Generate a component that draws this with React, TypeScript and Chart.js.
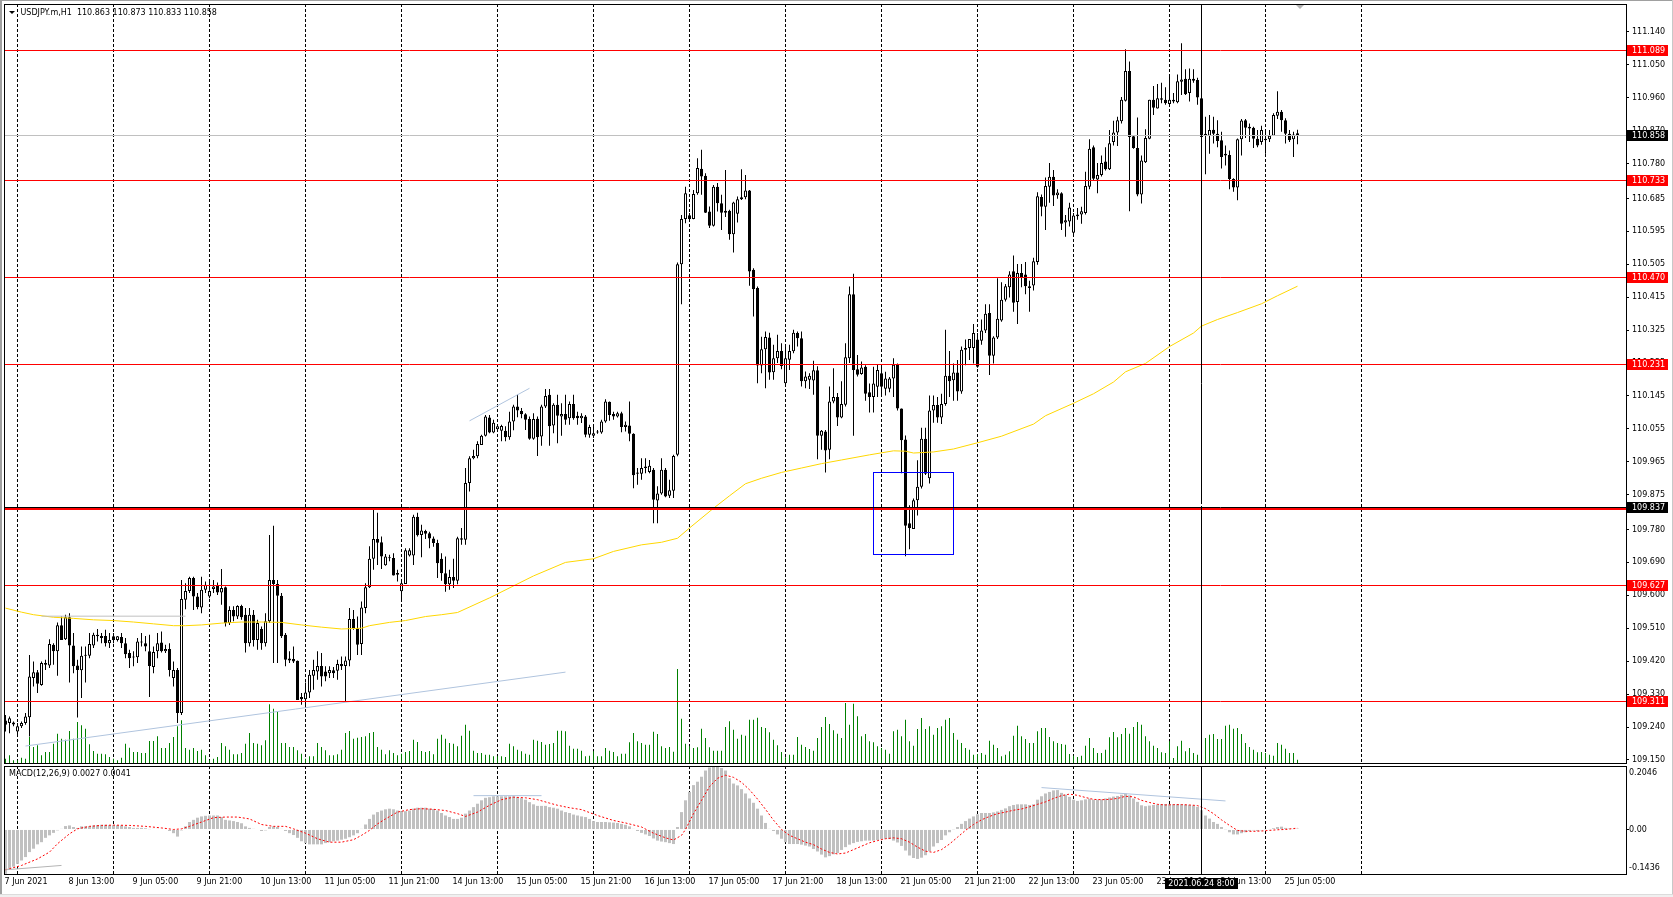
import { useEffect, useRef } from "react";
import { Chart, registerables } from "chart.js";

Chart.register(...registerables);

// ---------------- data ----------------
const SYMBOL_TITLE = "USDJPY.m,H1  110.863 110.873 110.833 110.858";
const MACD_TITLE = "MACD(12,26,9) 0.0027 0.0041";

// [open, high, low, close] per H1 bar, bar 0 = 7 Jun 21:00
const OHLC: number[][] = [
  [109.258,109.273,109.228,109.246],[109.251,109.269,109.223,109.264],[109.252,109.255,109.242,109.247],[109.228,109.251,109.219,109.242],
  [109.242,109.255,109.237,109.251],[109.251,109.278,109.246,109.269],[109.267,109.437,109.214,109.378],[109.374,109.419,109.351,109.390],
  [109.390,109.396,109.333,109.358],[109.355,109.419,109.353,109.415],[109.415,109.424,109.396,109.410],[109.408,109.480,109.401,109.467],
  [109.465,109.469,109.410,109.447],[109.447,109.526,109.380,109.518],[109.518,109.542,109.478,109.478],[109.480,109.547,109.478,109.540],
  [109.540,109.551,109.362,109.463],[109.463,109.497,109.387,109.406],[109.408,109.424,109.266,109.396],[109.395,109.460,109.319,109.435],
  [109.435,109.460,109.362,109.437],[109.435,109.497,109.428,109.467],[109.463,109.498,109.456,109.492],[109.488,109.508,109.474,109.492],
  [109.483,109.497,109.469,109.489],[109.489,109.506,109.460,109.469],[109.469,109.497,109.456,109.478],[109.488,109.497,109.469,109.478],
  [109.478,109.489,109.474,109.488],[109.486,109.497,109.456,109.469],[109.469,109.483,109.428,109.439],[109.442,109.451,109.401,109.428],
  [109.433,109.447,109.406,109.430],[109.431,109.483,109.415,109.474],[109.471,109.497,109.460,109.474],[109.469,109.489,109.447,109.460],
  [109.447,109.492,109.322,109.407],[109.404,109.460,109.387,109.445],[109.447,109.497,109.428,109.469],[109.471,109.501,109.444,109.447],
  [109.447,109.465,109.442,109.453],[109.453,109.469,109.378,109.396],[109.374,109.419,109.351,109.396],[109.396,109.401,109.251,109.278],
  [109.278,109.642,109.273,109.590],[109.588,109.633,109.562,109.612],[109.612,109.651,109.606,109.647],[109.647,109.651,109.560,109.597],
  [109.597,109.606,109.562,109.568],[109.567,109.651,109.551,109.615],[109.615,109.638,109.606,109.629],[109.597,109.642,109.592,109.612],
  [109.617,109.642,109.606,109.624],[109.626,109.635,109.601,109.608],[109.608,109.672,109.574,109.620],[109.622,109.624,109.515,109.524],
  [109.524,109.570,109.519,109.560],[109.560,109.570,109.529,109.542],[109.542,109.573,109.535,109.571],[109.571,109.574,109.533,109.540],
  [109.547,109.565,109.444,109.469],[109.469,109.565,109.460,109.547],[109.547,109.560,109.460,109.478],[109.478,109.533,109.451,109.524],
  [109.508,109.515,109.451,109.469],[109.469,109.551,109.460,109.529],[109.529,109.765,109.524,109.642],[109.642,109.790,109.415,109.631],
  [109.631,109.642,109.415,109.599],[109.599,109.606,109.483,109.488],[109.492,109.497,109.406,109.424],[109.427,109.447,109.415,109.422],
  [109.426,109.460,109.415,109.419],[109.421,109.422,109.314,109.314],[109.322,109.333,109.301,109.316],[109.316,109.362,109.292,109.334],
  [109.334,109.396,109.319,109.383],[109.380,109.424,109.342,109.396],[109.392,109.447,109.369,109.407],[109.407,109.442,109.351,109.378],
  [109.392,109.406,109.365,109.378],[109.387,109.406,109.374,109.396],[109.395,109.404,109.374,109.387],[109.394,109.424,109.369,109.412],
  [109.412,109.433,109.396,109.406],[109.407,109.433,109.310,109.422],[109.422,109.565,109.406,109.535],[109.535,109.560,109.506,109.510],
  [109.510,109.542,109.437,109.465],[109.467,109.583,109.437,109.567],[109.565,109.633,109.551,109.622],[109.622,109.734,109.620,109.700],
  [109.700,109.834,109.670,109.754],[109.754,109.826,109.683,109.744],[109.745,109.761,109.672,109.706],[109.682,109.713,109.681,109.706],
  [109.701,109.711,109.693,109.704],[109.702,109.715,109.654,109.654],[109.656,109.670,109.638,109.661],[109.611,109.638,109.588,109.633],
  [109.631,109.729,109.631,109.723],[109.709,109.729,109.706,109.723],[109.709,109.820,109.683,109.815],[109.815,109.826,109.761,109.764],
  [109.765,109.793,109.704,109.777],[109.776,109.779,109.754,109.768],[109.770,109.774,109.729,109.755],[109.755,109.761,109.733,109.743],
  [109.743,109.752,109.647,109.688],[109.700,109.715,109.640,109.660],[109.660,109.706,109.610,109.630],[109.630,109.670,109.615,109.650],
  [109.650,109.700,109.620,109.640],[109.640,109.760,109.630,109.756],[109.756,109.784,109.738,109.752],[109.752,109.948,109.738,109.907],
  [109.907,109.980,109.884,109.975],[109.975,109.998,109.972,109.981],[109.980,110.021,109.975,110.014],[110.011,110.039,110.011,110.036],
  [110.036,110.093,110.034,110.089],[110.086,110.093,110.043,110.045],[110.045,110.080,110.043,110.072],[110.054,110.066,110.048,110.062],
  [110.050,110.066,110.021,110.063],[110.050,110.062,110.021,110.032],[110.032,110.102,110.025,110.075],[110.075,110.121,110.051,110.116],
  [110.116,110.148,110.087,110.105],[110.104,110.112,110.084,110.095],[110.095,110.098,110.052,110.080],[110.082,110.089,110.025,110.028],
  [110.028,110.098,110.025,110.082],[110.083,110.089,109.981,110.032],[110.034,110.121,110.009,110.116],[110.116,110.164,110.112,110.145],
  [110.148,110.164,110.009,110.062],[110.064,110.125,110.043,110.121],[110.121,110.148,110.016,110.091],[110.089,110.125,110.036,110.096],
  [110.096,110.148,110.066,110.080],[110.084,110.130,110.066,110.123],[110.123,110.148,110.080,110.084],[110.091,110.102,110.066,110.084],
  [110.084,110.098,110.071,110.091],[110.089,110.093,110.032,110.039],[110.039,110.066,110.031,110.060],[110.036,110.062,110.030,110.043],
  [110.045,110.052,110.042,110.048],[110.045,110.080,110.042,110.075],[110.075,110.136,110.072,110.130],[110.129,110.130,110.077,110.093],
  [110.096,110.102,110.080,110.089],[110.089,110.102,110.086,110.098],[110.098,110.102,110.046,110.060],[110.060,110.075,110.048,110.066],
  [110.064,110.130,110.021,110.042],[110.042,110.043,109.893,109.928],[109.936,109.948,109.902,109.932],[109.932,109.975,109.916,109.948],
  [109.952,109.975,109.934,109.948],[109.937,109.970,109.934,109.954],[109.943,109.948,109.797,109.861],[109.859,109.898,109.797,109.878],
  [109.878,109.975,109.875,109.943],[109.943,109.948,109.868,109.870],[109.872,109.916,109.866,109.887],[109.886,109.984,109.866,109.981],
  [109.984,110.510,109.980,110.505],[110.505,110.640,110.396,110.629],[110.629,110.717,110.617,110.699],[110.639,110.645,110.622,110.629],
  [110.629,110.708,110.628,110.697],[110.699,110.795,110.695,110.768],[110.766,110.818,110.695,110.745],[110.747,110.754,110.645,110.646],
  [110.649,110.663,110.604,110.610],[110.610,110.722,110.608,110.717],[110.717,110.727,110.649,110.672],[110.672,110.695,110.599,110.646],
  [110.646,110.763,110.634,110.651],[110.651,110.654,110.572,110.587],[110.587,110.676,110.537,110.674],[110.643,110.690,110.619,110.683],
  [110.683,110.765,110.681,110.688],[110.688,110.749,110.683,110.707],[110.707,110.708,110.446,110.485],[110.490,110.494,110.362,110.437],
  [110.440,110.444,110.180,110.228],[110.228,110.307,110.207,110.273],[110.273,110.321,110.166,110.306],[110.305,110.318,110.189,110.209],
  [110.210,110.285,110.189,110.248],[110.248,110.312,110.235,110.268],[110.268,110.289,110.218,110.227],[110.180,110.285,110.175,110.248],
  [110.244,110.285,110.216,110.268],[110.267,110.326,110.262,110.318],[110.317,110.321,110.280,110.303],[110.303,110.321,110.171,110.185],
  [110.185,110.212,110.166,110.198],[110.189,110.207,110.164,110.200],[110.187,110.241,110.148,110.215],[110.215,110.226,109.972,110.036],
  [110.036,110.052,109.998,110.050],[110.048,110.052,109.936,109.996],[109.998,110.171,109.972,110.130],[110.130,110.221,110.125,110.142],
  [110.142,110.153,110.063,110.086],[110.086,110.185,110.084,110.123],[110.121,110.289,110.116,110.251],[110.248,110.444,110.235,110.423],
  [110.423,110.479,110.036,110.216],[110.218,110.257,110.198,110.203],[110.205,110.239,110.203,110.223],[110.225,110.229,110.132,110.151],
  [110.155,110.179,110.100,110.142],[110.142,110.225,110.100,110.179],[110.170,110.230,110.142,110.216],[110.207,110.230,110.142,110.170],
  [110.165,110.211,110.146,110.193],[110.165,110.197,110.155,110.193],[110.193,110.248,110.142,110.230],[110.230,110.234,110.105,110.111],
  [110.111,110.111,109.934,110.024],[110.026,110.037,109.707,109.790],[109.797,109.846,109.726,109.784],[109.781,109.865,109.781,109.860],
  [109.860,109.969,109.818,109.897],[109.897,110.058,109.892,110.028],[110.028,110.058,109.929,109.932],[109.920,110.146,109.906,110.105],
  [110.105,110.146,110.072,110.120],[110.120,110.142,110.072,110.086],[110.086,110.151,110.068,110.123],[110.123,110.326,110.118,110.200],
  [110.200,110.268,110.142,110.185],[110.188,110.234,110.132,110.209],[110.209,110.243,110.132,110.157],[110.157,110.280,110.151,110.271],
  [110.271,110.299,110.229,110.276],[110.276,110.301,110.243,110.301],[110.276,110.342,110.234,110.317],[110.299,110.317,110.222,110.225],
  [110.296,110.354,110.285,110.324],[110.324,110.396,110.317,110.370],[110.372,110.396,110.202,110.255],[110.255,110.308,110.234,110.305],
  [110.305,110.467,110.301,110.356],[110.351,110.456,110.348,110.408],[110.408,110.451,110.403,110.445],[110.442,110.486,110.414,110.477],
  [110.486,110.529,110.375,110.400],[110.402,110.506,110.342,110.481],[110.481,110.506,110.442,110.470],[110.477,110.511,110.423,110.445],
  [110.440,110.460,110.375,110.445],[110.447,110.523,110.433,110.513],[110.511,110.702,110.504,110.691],[110.689,110.696,110.636,110.662],
  [110.662,110.742,110.599,110.719],[110.717,110.782,110.673,110.744],[110.744,110.763,110.664,110.693],[110.694,110.710,110.684,110.701],
  [110.699,110.702,110.599,110.616],[110.619,110.640,110.580,110.625],[110.622,110.673,110.608,110.660],[110.591,110.645,110.585,110.638],
  [110.636,110.659,110.627,110.641],[110.641,110.662,110.616,110.650],[110.645,110.758,110.641,110.719],[110.717,110.847,110.710,110.821],
  [110.825,110.830,110.733,110.739],[110.737,110.782,110.699,110.749],[110.749,110.802,110.745,110.782],[110.786,110.825,110.761,110.765],
  [110.765,110.872,110.763,110.836],[110.839,110.897,110.830,110.865],[110.865,110.908,110.828,110.899],[110.896,110.962,110.890,110.955],
  [110.952,111.093,110.950,111.033],[111.033,111.059,110.650,110.853],[110.855,110.858,110.821,110.823],[110.823,110.906,110.691,110.696],
  [110.696,110.802,110.671,110.789],[110.784,110.874,110.782,110.850],[110.848,110.955,110.847,110.955],[110.955,110.992,110.913,110.933],
  [110.931,110.998,110.931,110.959],[110.959,111.001,110.945,110.955],[110.955,110.989,110.941,110.945],[110.943,111.019,110.939,110.955],
  [110.950,110.973,110.945,110.955],[110.948,111.024,110.945,111.005],[111.004,111.109,110.968,111.010],[111.012,111.038,110.968,110.970],
  [110.973,111.040,110.950,111.012],[111.007,111.038,111.001,111.012],[111.009,111.015,110.941,110.961],[110.959,110.964,110.798,110.853],
  [110.856,110.908,110.751,110.862],[110.856,110.913,110.807,110.872],[110.873,110.908,110.835,110.862],[110.862,110.899,110.825,110.842],
  [110.844,110.867,110.767,110.798],[110.802,110.830,110.775,110.807],[110.804,110.816,110.710,110.738],[110.738,110.740,110.703,110.715],
  [110.715,110.849,110.680,110.847],[110.847,110.902,110.802,110.898],[110.899,110.902,110.850,110.878],[110.876,110.890,110.839,110.881],
  [110.878,110.881,110.823,110.848],[110.848,110.872,110.825,110.830],[110.839,110.884,110.832,110.872],[110.848,110.867,110.807,110.844],
  [110.847,110.872,110.839,110.856],[110.856,110.918,110.856,110.913],[110.911,110.978,110.902,110.922],[110.922,110.927,110.867,110.899],
  [110.899,110.904,110.835,110.862],[110.862,110.872,110.839,110.844],[110.847,110.867,110.798,110.860],[110.863,110.873,110.833,110.858],
];

// tick volume per bar
const VOLUME: number[] = [
  87,153,53,53,107,87,520,320,353,153,
  220,220,387,587,487,467,640,487,820,753,
  687,373,240,187,187,173,120,87,53,107,
  387,307,220,220,200,200,440,440,533,300,
  300,400,520,733,853,300,267,300,240,267,
  153,53,87,120,400,333,267,173,173,200,
  387,600,400,387,353,453,1173,1087,1020,400,
  400,320,320,253,187,87,133,133,400,320,
  253,153,153,173,267,600,640,487,507,520,
  533,600,620,320,267,173,253,200,153,187,
  220,240,467,420,240,220,240,173,487,
  567,487,400,387,333,547,767,647,247,200,
  200,167,167,133,133,133,120,387,333,267,
  233,187,167,467,447,420,367,380,400,647,
  647,633,347,287,287,247,133,147,233,133,
  133,300,247,220,133,187,187,413,600,433,
  400,367,367,627,580,333,300,320,227,1881,
  887,387,333,300,313,687,500,313,247,247,
  247,720,834,667,487,567,547,867,867,907,
  720,700,614,467,353,220,113,167,167,520,
  367,320,280,247,500,720,920,780,654,587,
  500,1201,767,1187,934,534,580,434,413,333,
  300,267,187,633,667,534,867,434,347,680,
  900,680,734,567,700,734,867,900,600,467,
  400,300,267,167,180,200,167,447,367,300,
  133,167,233,547,747,534,480,400,400,633,
  700,700,520,434,400,380,367,180,147,120,
  147,347,500,300,200,200,267,514,620,514,
  580,700,587,720,820,767,534,434,347,300,
  213,200,434,100,333,447,233,300,200,167,
  333,500,567,580,480,480,747,767,687,700,
  580,400,320,267,213,220,200,167,147,400,
  367,287,200,200,67,
];

// MACD(12,26,9) main histogram per bar
const MACD_HIST: number[] = [
  -0.143,-0.127,-0.120,-0.111,-0.100,-0.089,-0.073,-0.062,-0.048,-0.041,
  -0.027,-0.019,-0.011,-0.003,0.002,0.011,0.013,0.008,0.005,0.010,
  0.010,0.011,0.013,0.014,0.015,0.015,0.014,0.014,0.014,0.013,
  0.010,0.008,0.005,0.005,0.005,0.004,0.001,0.002,0.002,0.002,
  0.000,-0.005,-0.012,-0.023,-0.003,0.010,0.024,0.031,0.038,0.042,
  0.044,0.045,0.045,0.045,0.040,0.031,0.029,0.027,0.024,0.020,
  0.010,0.005,0.002,0.000,-0.005,-0.003,0.008,0.010,0.008,0.002,
  -0.005,-0.012,-0.018,-0.027,-0.038,-0.044,-0.048,-0.048,-0.048,-0.048,
  -0.044,-0.041,-0.038,-0.036,-0.033,-0.030,-0.025,-0.019,-0.012,0.002,
  0.016,0.034,0.048,0.056,0.061,0.065,0.067,0.065,0.061,0.059,
  0.059,0.061,0.067,0.070,0.070,0.070,0.067,0.066,0.061,0.053,
  0.045,0.040,0.034,0.034,0.038,0.051,0.061,0.072,0.083,0.094,
  0.102,0.104,0.107,0.107,0.107,0.107,0.107,0.107,0.104,0.101,
  0.096,0.088,0.081,0.076,0.076,0.076,0.072,0.070,0.067,0.061,
  0.056,0.053,0.048,0.045,0.042,0.040,0.034,0.027,0.024,
  0.024,0.024,0.023,0.022,0.021,0.018,0.015,0.010,0.002,-0.005,
  -0.011,-0.016,-0.021,-0.029,-0.036,-0.039,-0.041,-0.044,-0.047,0.008,
  0.056,0.094,0.121,0.143,0.154,0.170,0.190,0.200,0.2046,0.203,
  0.198,0.190,0.165,0.148,0.142,0.130,0.116,0.100,0.086,0.067,
  0.045,0.021,0.002,-0.005,-0.016,-0.030,-0.041,-0.047,-0.047,-0.047,
  -0.049,-0.052,-0.055,-0.063,-0.071,-0.081,-0.090,-0.086,-0.080,-0.076,
  -0.066,-0.057,-0.049,-0.044,-0.040,-0.038,-0.036,-0.036,-0.036,-0.034,
  -0.031,-0.030,-0.031,-0.036,-0.042,-0.053,-0.068,-0.084,-0.092,-0.095,
  -0.091,-0.083,-0.070,-0.055,-0.044,-0.034,-0.019,-0.009,-0.001,0.008,
  0.018,0.027,0.035,0.042,0.049,0.053,0.053,0.053,0.055,0.058,
  0.063,0.068,0.075,0.079,0.081,0.081,0.081,0.079,0.081,0.096,
  0.107,0.116,0.121,0.126,0.127,0.118,0.112,0.105,0.096,0.092,
  0.094,0.097,0.099,0.096,0.096,0.097,0.100,0.103,0.106,0.108,
  0.112,0.116,0.110,0.100,0.089,0.078,0.075,0.077,0.079,0.080,
  0.081,0.082,0.081,0.081,0.081,0.081,0.080,0.079,0.077,0.073,
  0.062,0.045,0.035,0.024,0.018,0.008,-0.001,-0.009,-0.016,-0.016,
  -0.012,-0.009,-0.005,-0.003,-0.005,-0.003,-0.001,0.001,0.004,0.008,
  0.009,0.005,0.003,0.001,0.0027,
];

// MACD signal line, [bar, value]
const MACD_SIGNAL: number[][] = [
  [0,-0.130],[4,-0.116],[8,-0.095],[11,-0.073],[13,-0.046],[16,-0.014],[18,0.002],[21,0.010],[24,0.013],[27,0.014],
  [31,0.013],[35,0.010],[39,0.005],[42,0.000],[44,0.002],[46,0.010],[49,0.024],[52,0.038],[55,0.040],[58,0.040],
  [61,0.034],[64,0.016],[67,0.010],[70,0.010],[72,0.002],[75,-0.012],[78,-0.030],[81,-0.041],[84,-0.041],[87,-0.033],
  [89,-0.019],[91,-0.003],[93,0.018],[95,0.034],[98,0.056],[101,0.064],[104,0.067],[107,0.065],[110,0.061],[113,0.051],
  [115,0.042],[118,0.056],[121,0.078],[124,0.096],[127,0.104],[130,0.102],[133,0.096],[136,0.085],[138,0.078],[141,0.070],
  [144,0.064],[148,0.045],[152,0.029],[155,0.021],[159,0.008],[162,-0.012],[165,-0.027],[167,-0.034],[169,-0.019],[170,0.000],
  [172,0.051],[174,0.094],[176,0.138],[178,0.165],[180,0.175],[182,0.168],[184,0.152],[186,0.128],[188,0.098],[190,0.065],
  [192,0.030],[194,0.000],[196,-0.019],[198,-0.030],[200,-0.041],[202,-0.049],[204,-0.063],[206,-0.074],[208,-0.079],[210,-0.076],
  [212,-0.065],[214,-0.054],[216,-0.043],[218,-0.036],[220,-0.030],[222,-0.027],[224,-0.030],[226,-0.041],[228,-0.057],[230,-0.070],
  [232,-0.074],[234,-0.065],[236,-0.047],[238,-0.025],[240,-0.003],[242,0.016],[244,0.031],[246,0.042],[248,0.051],[250,0.056],
  [252,0.062],[254,0.066],[256,0.073],[258,0.081],[260,0.089],[262,0.100],[264,0.109],[266,0.114],[268,0.110],[270,0.103],
  [272,0.097],[274,0.096],[276,0.097],[278,0.100],[280,0.107],[282,0.105],[284,0.094],[286,0.087],[288,0.081],[290,0.079],
  [292,0.080],[294,0.080],[296,0.079],[298,0.077],[300,0.067],[302,0.051],[304,0.031],[306,0.013],[308,-0.003],[310,-0.006],
  [312,-0.006],[314,-0.005],[316,-0.003],[318,-0.001],[320,0.000],[322,0.003],[323,0.0041],
];

// moving average (yellow), [bar, price]
const MA_LINE: number[][] = [
  [0,109.565],[4,109.554],[7,109.547],[12,109.540],[17,109.537],[22,109.533],[27,109.531],[32,109.527],[37,109.522],[42,109.517],
  [45,109.517],[49,109.519],[54,109.524],[59,109.527],[64,109.527],[69,109.526],[74,109.519],[79,109.513],[84,109.508],[89,109.510],
  [91,109.517],[96,109.526],[100,109.531],[105,109.542],[109,109.547],[113,109.553],[121,109.593],[132,109.653],[140,109.690],[147,109.700],
  [152,109.720],[159,109.738],[164,109.745],[168,109.756],[171,109.784],[177,109.838],[181,109.872],[185,109.905],[189,109.920],[194,109.936],
  [199,109.948],[204,109.960],[209,109.970],[216,109.984],[222,109.995],[225,109.994],[227,109.989],[232,109.992],[237,110.000],[243,110.017],
  [249,110.035],[257,110.068],[260,110.091],[267,110.125],[272,110.151],[277,110.183],[280,110.211],[285,110.234],[291,110.280],[297,110.317],
  [299,110.336],[303,110.354],[308,110.373],[314,110.397],[318,110.419],[323,110.445],
];

// drawn objects ([bar, value] end points)
const TREND_LONG: number[][] = [[5,109.188],[140,109.390]];
const TREND_SHORT: number[][] = [[116,110.077],[131,110.166]];
const GRAY_SEGMENT: number[][] = [[9,109.543],[45,109.543]];
const MACD_TREND_A: number[][] = [[0,-0.130],[14,-0.116]];
const MACD_TREND_B: number[][] = [[117,0.109],[134,0.109]];
const MACD_TREND_C: number[][] = [[259,0.135],[305,0.092]];
const BOX_BARS = [217, 237];
const BOX_PRICES = [109.935, 109.712];

const RED_LEVELS = [111.089, 110.733, 110.47, 110.231, 109.627, 109.311];
const MAJOR_LEVEL = 109.837;
const BID_PRICE = 110.858;
const CROSS_BAR = 299;
const CROSS_PRICE = 109.84;
const CROSS_PRICE_LABEL = "109.837";
const CROSS_TIME_LABEL = "2021.06.24 8:00";

const PRICE_TICKS = [111.14,111.05,110.96,110.87,110.78,110.685,110.595,110.505,110.415,110.325,110.235,110.145,110.055,109.965,109.875,109.78,109.69,109.6,109.51,109.42,109.33,109.24,109.15];
const TIME_TICKS = [0,16,32,48,64,80,96,112,128,144,160,176,192,208,224,240,256,272,288,304,320];
const TIME_LABELS = ["7 Jun 2021","8 Jun 13:00","9 Jun 05:00","9 Jun 21:00","10 Jun 13:00","11 Jun 05:00","11 Jun 21:00","14 Jun 13:00","15 Jun 05:00","15 Jun 21:00","16 Jun 13:00","17 Jun 05:00","17 Jun 21:00","18 Jun 13:00","21 Jun 05:00","21 Jun 21:00","22 Jun 13:00","23 Jun 05:00","23 Jun 21:00","24 Jun 13:00","25 Jun 05:00"];
const GRID_BARS = [3,27,51,75,99,123,147,171,195,219,243,267,291,315,339];

// ---------------- layout ----------------
const W = 1673;
const MAIN_H = 765;
const MACD_H = 132;
const AXIS_W = 47;
const X_MIN = -0.375;
const X_MAX = 405.125;
const PRICE_MIN = 109.1416;
const PRICE_MAX = 111.2165;
const VOL_MAX = 15180;
const MACD_MIN = -0.1436;
const MACD_MAX = 0.2046;
const FONT_FAMILY = "DejaVu Sans";
const CANVAS_FONT = "8px 'DejaVu Sans'";

const pts = (arr: number[][]) => arr.map(([x, y]) => ({ x, y }));

function drawVGrid(chart: any) {
  const { ctx, chartArea: ca, scales } = chart;
  const x = scales.x;
  ctx.save();
  ctx.strokeStyle = "#000";
  ctx.lineWidth = 1;
  ctx.setLineDash([3, 2]);
  for (const b of GRID_BARS) {
    const px = Math.floor(x.getPixelForValue(b)) + 0.5;
    if (px < ca.left || px > ca.right) continue;
    ctx.beginPath();
    ctx.moveTo(px, ca.top);
    ctx.lineTo(px, ca.bottom);
    ctx.stroke();
  }
  ctx.restore();
}

function hline(ctx: any, ca: any, py: number, color: string) {
  const yy = Math.floor(py) + 0.5;
  ctx.strokeStyle = color;
  ctx.lineWidth = 1;
  ctx.beginPath();
  ctx.moveTo(ca.left, yy);
  ctx.lineTo(ca.right, yy);
  ctx.stroke();
}

function axisBox(ctx: any, x0: number, py: number, text: string, bg: string) {
  const yy = Math.floor(py);
  ctx.fillStyle = bg;
  ctx.fillRect(x0, yy - 5, 41, 11);
  ctx.fillStyle = "#fff";
  ctx.font = CANVAS_FONT;
  ctx.textAlign = "left";
  ctx.textBaseline = "middle";
  ctx.fillText(text, x0 + 5, yy + 0.5);
}

const mainOverlay = {
  id: "mainOverlay",
  beforeDatasetsDraw(chart: any) {
    drawVGrid(chart);
  },
  afterDatasetsDraw(chart: any) {
    const { ctx, chartArea: ca, scales } = chart;
    const y = scales.y;
    const x = scales.x;
    ctx.save();
    ctx.setLineDash([]);
    hline(ctx, ca, y.getPixelForValue(BID_PRICE), "#c0c0c0");
    for (const lv of RED_LEVELS) hline(ctx, ca, y.getPixelForValue(lv), "#ff0000");
    const ty = Math.floor(y.getPixelForValue(MAJOR_LEVEL));
    ctx.fillStyle = "#ff0000";
    ctx.fillRect(ca.left, ty, ca.width, 2);
    // blue box
    const bx1 = Math.floor(x.getPixelForValue(BOX_BARS[0])) + 0.5;
    const bx2 = Math.floor(x.getPixelForValue(BOX_BARS[1])) + 0.5;
    const by1 = Math.floor(y.getPixelForValue(BOX_PRICES[0])) + 0.5;
    const by2 = Math.floor(y.getPixelForValue(BOX_PRICES[1])) + 0.5;
    ctx.strokeStyle = "#0000ff";
    ctx.lineWidth = 1;
    ctx.strokeRect(bx1, by1, bx2 - bx1, by2 - by1);
    // crosshair
    const cx = Math.floor(x.getPixelForValue(CROSS_BAR)) + 0.5;
    const cy = Math.floor(y.getPixelForValue(CROSS_PRICE)) + 0.5;
    ctx.strokeStyle = "#000";
    ctx.beginPath();
    ctx.moveTo(cx, ca.top);
    ctx.lineTo(cx, ca.bottom);
    ctx.stroke();
    ctx.beginPath();
    ctx.moveTo(ca.left, cy);
    ctx.lineTo(ca.right, cy);
    ctx.stroke();
    ctx.fillStyle = "#fff";
    ctx.fillRect(cx - 0.5, cy - 3.5, 1, 2);
    // border
    ctx.strokeStyle = "#000";
    ctx.strokeRect(ca.left + 0.5, ca.top + 0.5, ca.width, ca.height);
    ctx.restore();
  },
  afterDraw(chart: any) {
    const { ctx, chartArea: ca, scales } = chart;
    const y = scales.y;
    ctx.save();
    const x0 = ca.right + 1;
    for (const lv of RED_LEVELS) axisBox(ctx, x0, y.getPixelForValue(lv), lv.toFixed(3), "#ff0000");
    axisBox(ctx, x0, y.getPixelForValue(BID_PRICE), BID_PRICE.toFixed(3), "#000000");
    axisBox(ctx, x0, y.getPixelForValue(CROSS_PRICE), CROSS_PRICE_LABEL, "#000000");
    // title
    ctx.fillStyle = "#000";
    ctx.beginPath();
    ctx.moveTo(9, 11);
    ctx.lineTo(15, 11);
    ctx.lineTo(12, 14);
    ctx.closePath();
    ctx.fill();
    ctx.font = CANVAS_FONT;
    ctx.textAlign = "left";
    ctx.textBaseline = "middle";
    ctx.fillText(SYMBOL_TITLE, 20.5, 12.5);
    // chart shift marker
    ctx.fillStyle = "#b4b4b4";
    ctx.beginPath();
    ctx.moveTo(1296, ca.top + 1);
    ctx.lineTo(1304, ca.top + 1);
    ctx.lineTo(1300, ca.top + 5);
    ctx.closePath();
    ctx.fill();
    ctx.restore();
  },
};

const macdOverlay = {
  id: "macdOverlay",
  beforeDatasetsDraw(chart: any) {
    drawVGrid(chart);
  },
  afterDatasetsDraw(chart: any) {
    const { ctx, chartArea: ca, scales } = chart;
    const x = scales.x;
    ctx.save();
    const cx = Math.floor(x.getPixelForValue(CROSS_BAR)) + 0.5;
    ctx.strokeStyle = "#000";
    ctx.lineWidth = 1;
    ctx.beginPath();
    ctx.moveTo(cx, ca.top);
    ctx.lineTo(cx, ca.bottom);
    ctx.stroke();
    ctx.strokeRect(ca.left + 0.5, ca.top + 0.5, ca.width, ca.height);
    ctx.fillStyle = "#000";
    ctx.font = CANVAS_FONT;
    ctx.textAlign = "left";
    ctx.textBaseline = "middle";
    ctx.fillText(MACD_TITLE, 9, ca.top + 8);
    ctx.restore();
  },
  afterDraw(chart: any) {
    const { ctx, chartArea: ca, scales } = chart;
    const x = scales.x;
    ctx.save();
    ctx.font = CANVAS_FONT;
    ctx.textBaseline = "middle";
    ctx.textAlign = "left";
    ctx.fillStyle = "#000";
    ctx.fillText(MACD_MAX.toFixed(4), ca.right + 3, ca.top + 6.5);
    ctx.fillText(MACD_MIN.toFixed(4), ca.right + 3, ca.bottom - 6.5);
    const cx = Math.floor(x.getPixelForValue(CROSS_BAR)) + 0.5;
    ctx.fillStyle = "#000";
    ctx.fillRect(Math.round(cx - 37), ca.bottom + 4, 73, 11);
    ctx.fillStyle = "#fff";
    ctx.textAlign = "center";
    ctx.fillText(CROSS_TIME_LABEL, cx, ca.bottom + 9.5);
    ctx.restore();
  },
};

function lineSet(data: number[][], color: string, order: number, yAxisID = "y", dash: number[] = []) {
  return {
    type: "line",
    data: pts(data),
    yAxisID,
    borderColor: color,
    borderWidth: 1,
    borderDash: dash,
    pointRadius: 0,
    tension: 0,
    order,
  };
}

function mainConfig(): any {
  const bodies = OHLC.map((d, i) => ({ x: i, y: [d[0], d[3]] }));
  const wicks = OHLC.map((d, i) => ({ x: i, y: [d[2], d[1]] }));
  const bodyFill = OHLC.map((d) => (d[3] >= d[0] ? "#ffffff" : "#000000"));
  return {
    type: "bar",
    data: {
      datasets: [
        { type: "bar", data: VOLUME.map((v, i) => ({ x: i, y: v })), yAxisID: "yv", backgroundColor: "#008000", borderWidth: 0, barThickness: 1, grouped: false, inflateAmount: 0, order: 10 },
        { type: "bar", data: wicks, yAxisID: "y", backgroundColor: "#000000", borderWidth: 0, barThickness: 1, grouped: false, inflateAmount: 0, order: 4 },
        { type: "bar", data: bodies, yAxisID: "y", backgroundColor: bodyFill, borderColor: "#000000", borderWidth: 1, borderSkipped: false, barThickness: 3, grouped: false, inflateAmount: 0, minBarLength: 1, order: 3 },
        lineSet(MA_LINE, "#ffd700", 2),
        lineSet(TREND_LONG, "#b0c4de", 1),
        lineSet(TREND_SHORT, "#b0c4de", 1),
        lineSet(GRAY_SEGMENT, "#c0c0c0", 1),
      ],
    },
    options: {
      responsive: false,
      maintainAspectRatio: false,
      animation: false,
      events: [],
      layout: { padding: { left: 4, top: 4, right: 0, bottom: 2 } },
      plugins: { legend: { display: false }, tooltip: { enabled: false } },
      scales: {
        x: { type: "linear", min: X_MIN, max: X_MAX, display: false, offset: false },
        y: {
          type: "linear",
          position: "right",
          min: PRICE_MIN,
          max: PRICE_MAX,
          afterBuildTicks: (s: any) => {
            s.ticks = PRICE_TICKS.map((v) => ({ value: v }));
          },
          afterFit: (s: any) => {
            s.width = AXIS_W;
            s.paddingTop = 0;
            s.paddingBottom = 0;
          },
          grid: { drawOnChartArea: false, drawTicks: true, tickLength: 3, color: "#000" },
          border: { display: false },
          ticks: {
            autoSkip: false,
            color: "#000",
            padding: 3,
            font: { family: FONT_FAMILY, size: 8 },
            callback: (v: any) => Number(v).toFixed(3),
          },
        },
        yv: { type: "linear", display: false, min: 0, max: VOL_MAX },
      },
    },
    plugins: [mainOverlay],
  };
}

function macdConfig(): any {
  return {
    type: "bar",
    data: {
      datasets: [
        { type: "bar", data: MACD_HIST.map((v, i) => ({ x: i, y: v })), yAxisID: "y", backgroundColor: "#c0c0c0", borderWidth: 0, barThickness: 3, grouped: false, inflateAmount: 0, order: 5 },
        lineSet(MACD_SIGNAL, "#ff0000", 2, "y", [2, 2]),
        lineSet(MACD_TREND_A, "#b4b4b4", 1),
        lineSet(MACD_TREND_B, "#b0c4de", 1),
        lineSet(MACD_TREND_C, "#b0c4de", 1),
      ],
    },
    options: {
      responsive: false,
      maintainAspectRatio: false,
      animation: false,
      events: [],
      layout: { padding: { left: 4, top: 1, right: 0, bottom: 0 } },
      plugins: { legend: { display: false }, tooltip: { enabled: false } },
      scales: {
        x: {
          type: "linear",
          min: X_MIN,
          max: X_MAX,
          offset: false,
          position: "bottom",
          afterBuildTicks: (s: any) => {
            s.ticks = TIME_TICKS.map((v) => ({ value: v }));
          },
          afterFit: (s: any) => {
            s.height = 23;
            s.paddingLeft = 0;
            s.paddingRight = 0;
          },
          grid: { drawOnChartArea: false, drawTicks: false },
          border: { display: false },
          ticks: {
            autoSkip: false,
            maxRotation: 0,
            minRotation: 0,
            align: "start",
            labelOffset: -1,
            padding: 3,
            color: "#000",
            font: { family: FONT_FAMILY, size: 8 },
            callback: (_v: any, idx: number) => TIME_LABELS[idx],
          },
        },
        y: {
          type: "linear",
          position: "right",
          min: MACD_MIN,
          max: MACD_MAX,
          afterBuildTicks: (s: any) => {
            s.ticks = [{ value: 0 }];
          },
          afterFit: (s: any) => {
            s.width = AXIS_W;
            s.paddingTop = 0;
            s.paddingBottom = 0;
          },
          grid: { drawOnChartArea: false, drawTicks: true, tickLength: 3, color: "#000" },
          border: { display: false },
          ticks: {
            autoSkip: false,
            color: "#000",
            padding: 0,
            font: { family: FONT_FAMILY, size: 8 },
            callback: () => "0.00",
          },
        },
      },
    },
    plugins: [macdOverlay],
  };
}

export default function App() {
  const mainRef = useRef<HTMLCanvasElement>(null);
  const macdRef = useRef<HTMLCanvasElement>(null);

  useEffect(() => {
    const c1 = new Chart(mainRef.current as HTMLCanvasElement, mainConfig());
    const c2 = new Chart(macdRef.current as HTMLCanvasElement, macdConfig());
    return () => {
      c1.destroy();
      c2.destroy();
    };
  }, []);

  return (
    <div style={{ position: "fixed", left: 0, top: 0, width: W, height: 897, background: "#ffffff", overflow: "hidden" }}>
      <canvas ref={mainRef} width={W} height={MAIN_H} style={{ position: "absolute", left: 0, top: 0, width: W, height: MAIN_H }} />
      <canvas ref={macdRef} width={W} height={MACD_H} style={{ position: "absolute", left: 0, top: MAIN_H, width: W, height: MACD_H }} />
      <div style={{ position: "absolute", left: 0, top: 0, width: W, height: 1, background: "#a0a0a0" }} />
      <div style={{ position: "absolute", left: 0, top: 0, width: 2, height: 897, background: "#a0a0a0" }} />
      <div style={{ position: "absolute", left: W - 1, top: 0, width: 1, height: 897, background: "#c8c8c8" }} />
      <div style={{ position: "absolute", left: 0, top: 894, width: W, height: 3, background: "#f0f0f0", borderTop: "1px solid #dcdcdc" }} />
    </div>
  );
}
